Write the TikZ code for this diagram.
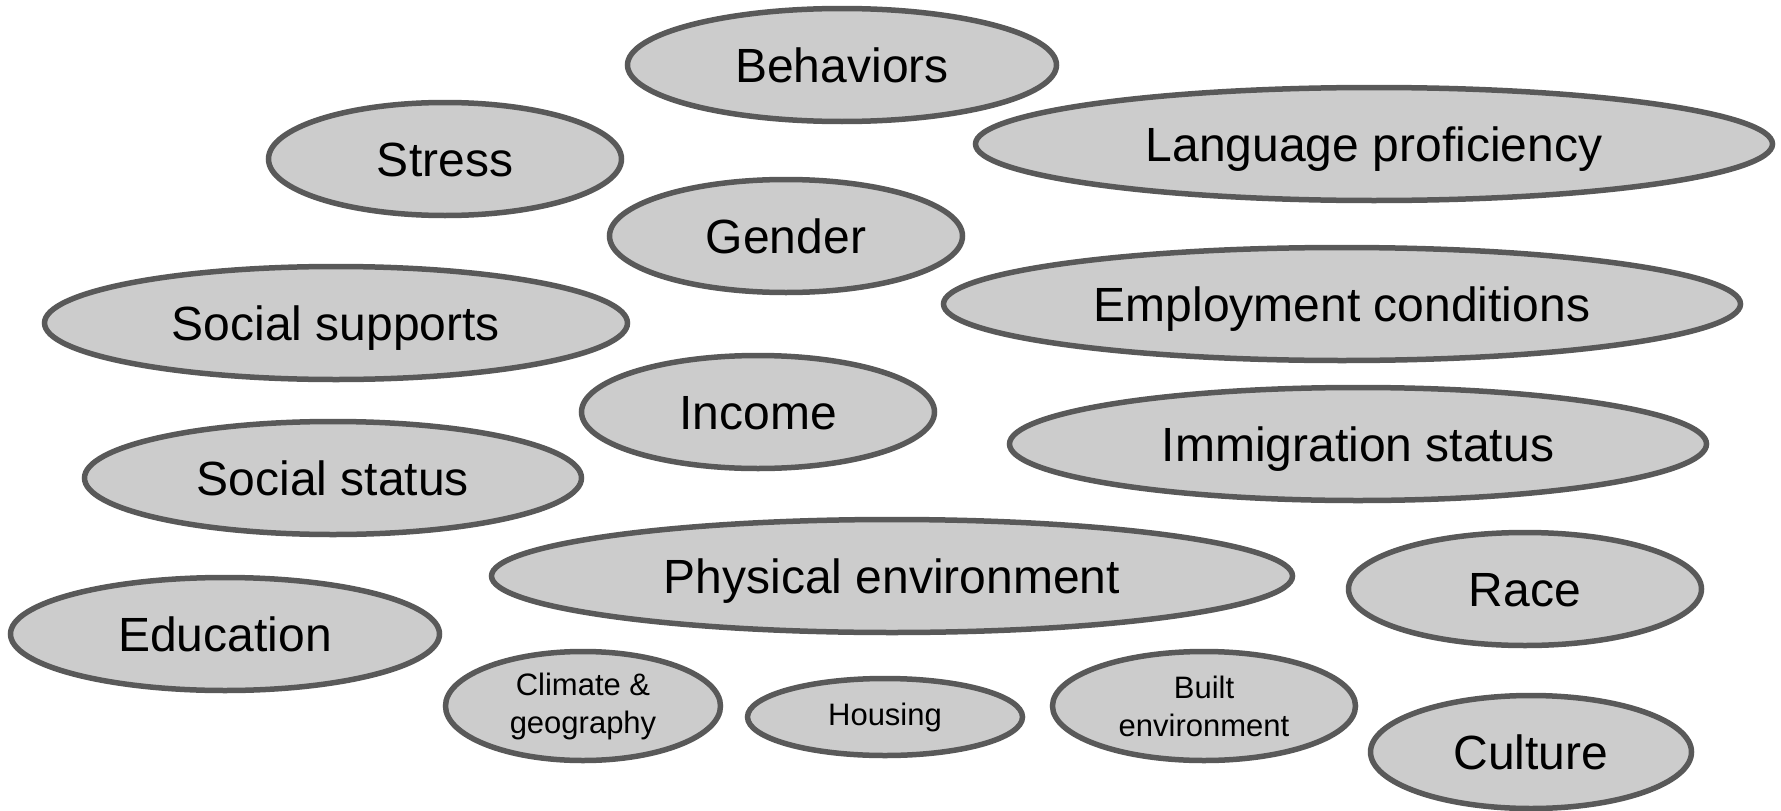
\documentclass[tikz,border=0pt]{standalone}
\usepackage{fontspec}
\setmainfont{Liberation Sans}
\usetikzlibrary{shapes.geometric}
\definecolor{ovfill}{HTML}{CCCCCC}
\definecolor{ovline}{HTML}{595959}
\tikzset{
  oval/.style={ellipse, draw=ovline, fill=ovfill, line width=5.5pt, inner sep=0pt,
    font=\fontsize{48}{57}\selectfont, text height=34.5pt, text depth=0pt},
  smalloval/.style={ellipse, draw=ovline, fill=ovfill, line width=5.5pt, inner sep=0pt,
    font=\fontsize{31}{38}\selectfont, align=center}
}
\begin{document}
\begin{tikzpicture}[x=1pt,y=-1pt]
\useasboundingbox (0,0) rectangle (1781,811);
\node[oval, minimum width=429pt, minimum height=113pt] (behav) at (842,65) {Behaviors};
\node[oval, minimum width=353pt, minimum height=113pt] (stress) at (445,159) {Stress};
\node[oval, minimum width=797pt, minimum height=113pt] (lang) at (1374,144) {Language proficiency};
\node[oval, minimum width=353pt, minimum height=113pt] (gender) at (786,236) {Gender};
\node[oval, minimum width=583pt, minimum height=113pt] (socsup) at (336,323) {Social supports};
\node[oval, minimum width=797pt, minimum height=113pt] (employ) at (1342,304) {Employment conditions};
\node[oval, minimum width=353pt, minimum height=113pt] (income) at (758,412) {Income};
\node[oval, minimum width=697pt, minimum height=113pt] (immig) at (1358,444) {Immigration status};
\node[oval, minimum width=497pt, minimum height=113pt] (socstat) at (333,478) {Social status};
\node[oval, minimum width=801pt, minimum height=113pt] (phys) at (892,576) {Physical environment};
\node[oval, minimum width=353pt, minimum height=113pt] (race) at (1525,589) {Race};
\node[oval, minimum width=429pt, minimum height=113pt] (edu) at (225,634) {Education};
\node[smalloval, minimum width=275pt, minimum height=109pt] (climate) at (583,706) {Climate \&\\geography};
\node[smalloval, minimum width=275pt, minimum height=77pt] (housing) at (885,717) {Housing};
\node[smalloval, minimum width=303pt, minimum height=109pt] (built) at (1204,706) {Built\\environment};
\node[oval, minimum width=321pt, minimum height=113pt] (culture) at (1531,752) {Culture};
\end{tikzpicture}
\end{document}
